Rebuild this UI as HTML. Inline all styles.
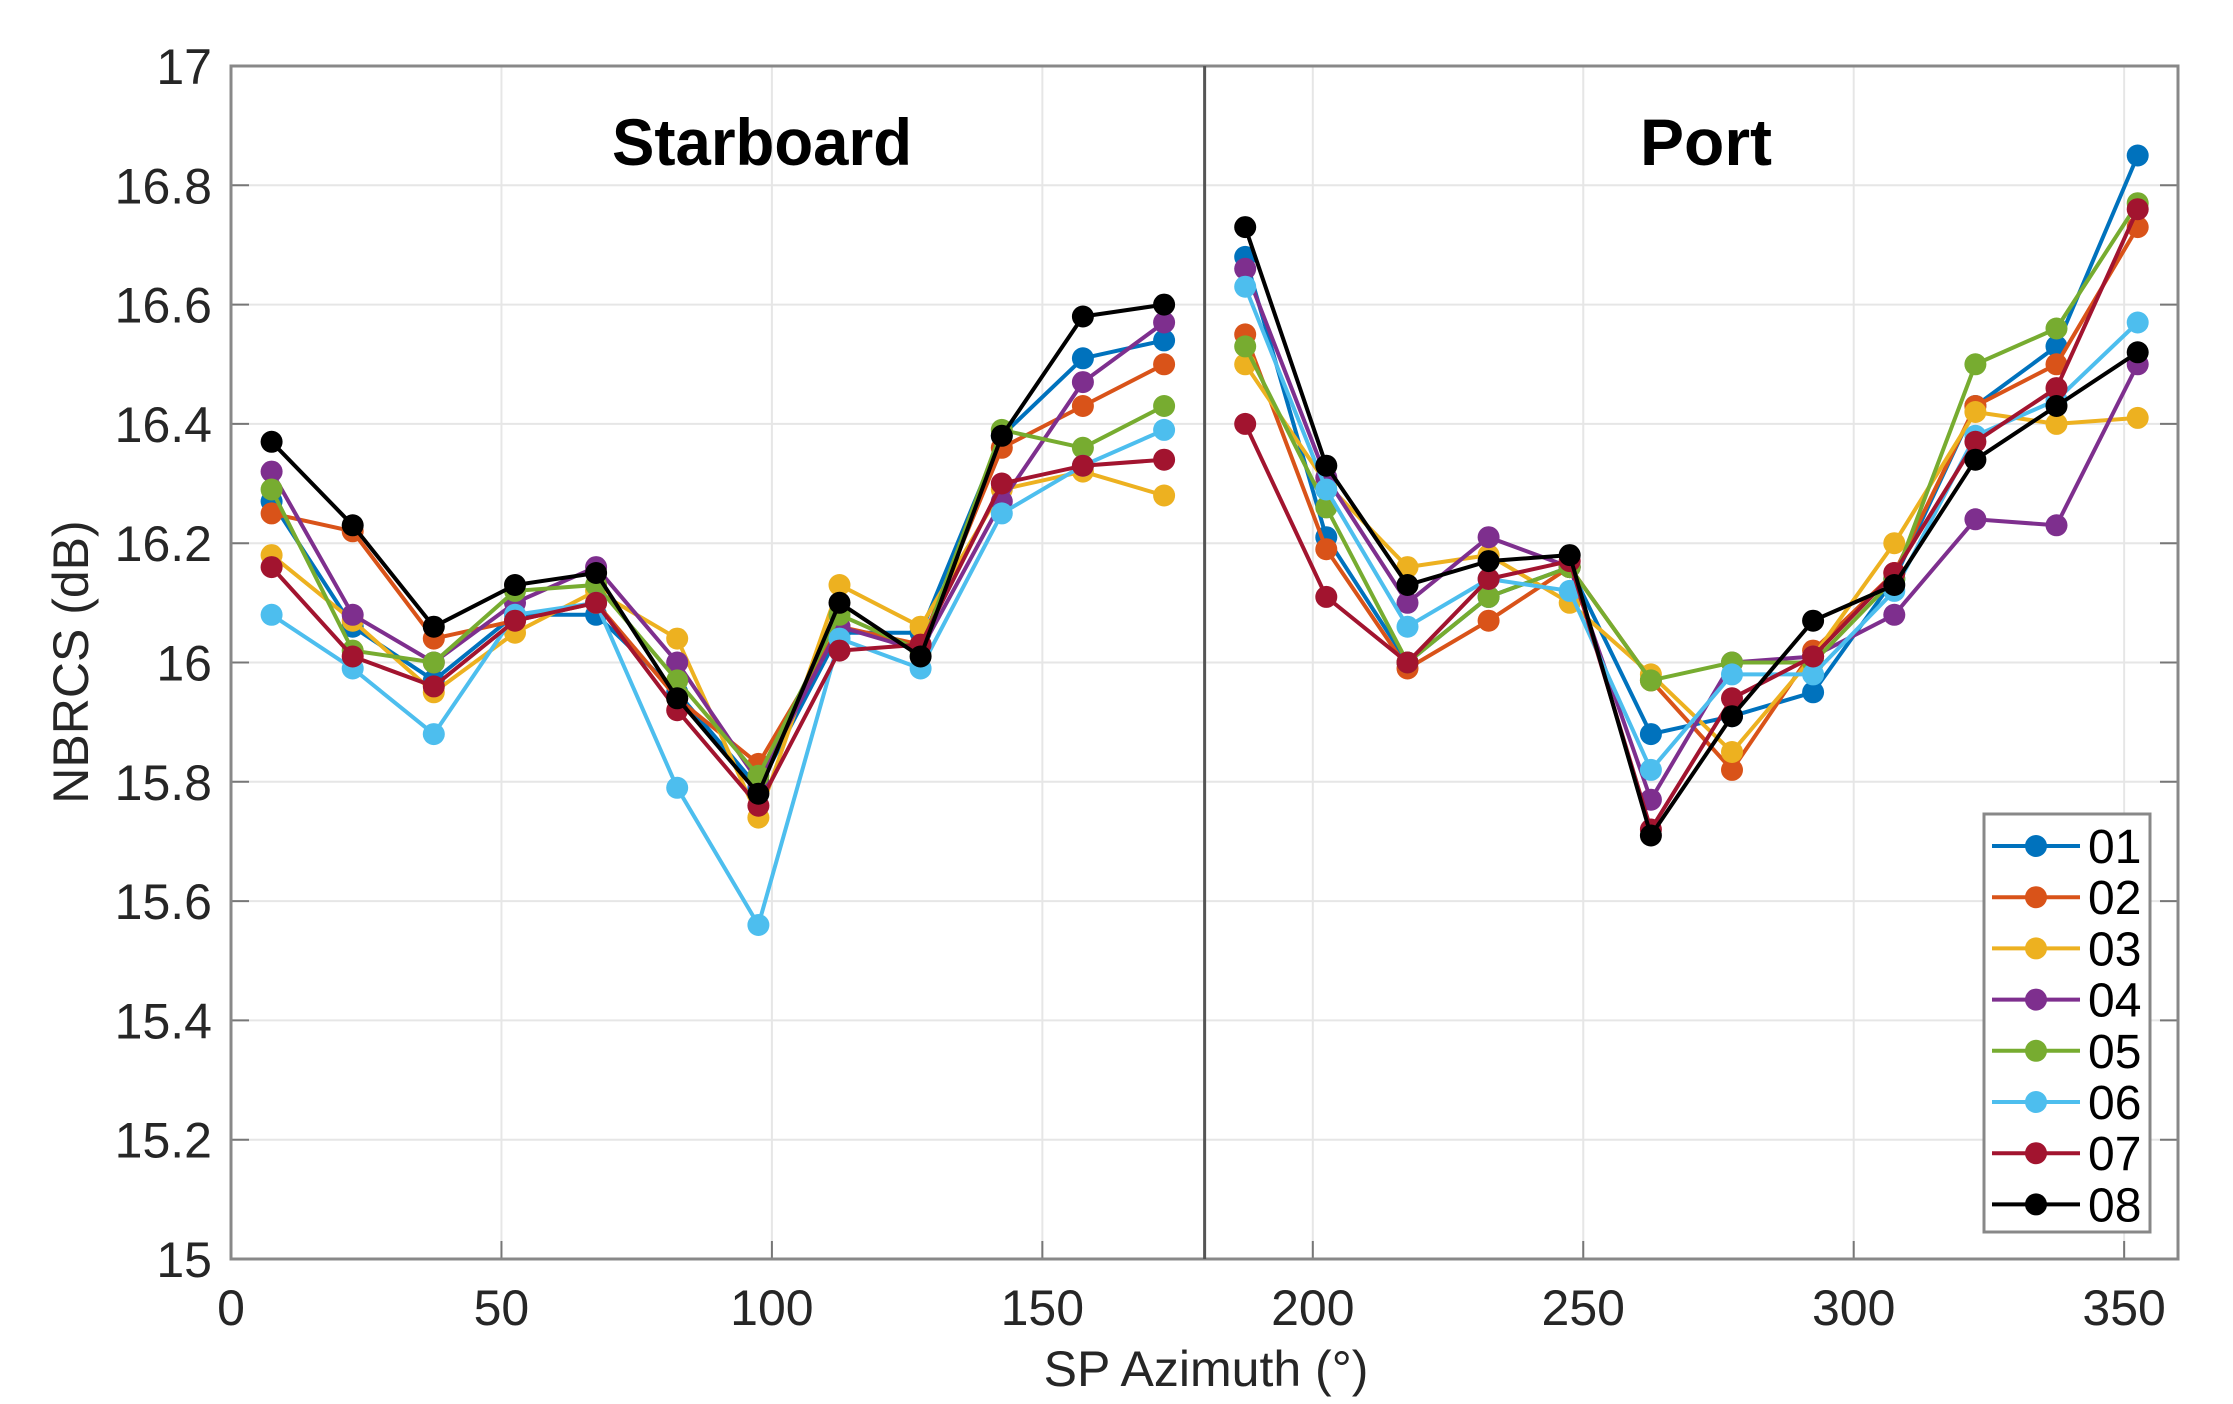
<!DOCTYPE html>
<html><head><meta charset="utf-8"><style>body{margin:0;background:#fff}svg{display:block}</style></head>
<body>
<svg id="s" xmlns="http://www.w3.org/2000/svg" width="2233" height="1404" viewBox="0 0 2233 1404" font-family="Liberation Sans, DejaVu Sans, sans-serif">
<rect width="2233" height="1404" fill="#fff"/>
<g id="g"></g>
<text x="762" y="165" font-size="66" font-weight="bold" text-anchor="middle" textLength="300" lengthAdjust="spacingAndGlyphs" fill="#000">Starboard</text>
<text x="1706" y="165" font-size="66" font-weight="bold" text-anchor="middle" fill="#000">Port</text>
<text transform="translate(88,662) rotate(-90)" font-size="50" text-anchor="middle" fill="#262626">NBRCS (dB)</text>
<text x="1206" y="1386" font-size="50" text-anchor="middle" fill="#262626">SP Azimuth (°)</text>
</svg>
<script>
var g=document.getElementById('g'),h='';
function X(v){return 231+v*5.409;}function Y(v){return 66+(17-v)*596.5;}
for(var i=0;i<=7;i++){var x=X(i*50);h+='<line x1="'+x+'" y1="66" x2="'+x+'" y2="1259" stroke="#e6e6e6" stroke-width="2"/>';
h+='<line x1="'+x+'" y1="1259" x2="'+x+'" y2="1241" stroke="#777" stroke-width="2"/>';
h+='<text x="'+x+'" y="1325" font-size="50" text-anchor="middle" fill="#262626">'+(i*50)+'</text>';}
for(var i=0;i<=10;i++){var v=15+i*0.2,y=Y(v);h+='<line x1="231" y1="'+y+'" x2="2178" y2="'+y+'" stroke="#e6e6e6" stroke-width="2"/>';
h+='<line x1="231" y1="'+y+'" x2="249" y2="'+y+'" stroke="#777" stroke-width="2"/><line x1="2160" y1="'+y+'" x2="2178" y2="'+y+'" stroke="#777" stroke-width="2"/>';
var l=(Math.abs(v-Math.round(v))<1e-6)?String(Math.round(v)):v.toFixed(1);
h+='<text x="212" y="'+(y+18)+'" font-size="50" text-anchor="end" fill="#262626">'+l+'</text>';}
h+='<rect x="231" y="66" width="1947" height="1193" fill="none" stroke="#888" stroke-width="3"/>';
h+='<line x1="'+X(180)+'" y1="66" x2="'+X(180)+'" y2="1259" stroke="#555" stroke-width="3"/>';
var C=['#0072BD','#D95319','#EDB120','#7E2F8E','#77AC30','#4DBEEE','#A2142F','#000000'];
var S=[[16.27,16.06,15.97,16.08,16.08,15.95,15.79,16.05,16.05,16.38,16.51,16.54],
[16.25,16.22,16.04,16.07,16.10,15.94,15.83,16.06,16.03,16.36,16.43,16.50],
[16.18,16.07,15.95,16.05,16.12,16.04,15.74,16.13,16.06,16.29,16.32,16.28],
[16.32,16.08,16.00,16.10,16.16,16.00,15.80,16.06,16.02,16.27,16.47,16.57],
[16.29,16.02,16.00,16.12,16.13,15.97,15.81,16.08,16.02,16.39,16.36,16.43],
[16.08,15.99,15.88,16.08,16.10,15.79,15.56,16.04,15.99,16.25,16.33,16.39],
[16.16,16.01,15.96,16.07,16.10,15.92,15.76,16.02,16.03,16.30,16.33,16.34],
[16.37,16.23,16.06,16.13,16.15,15.94,15.78,16.10,16.01,16.38,16.58,16.60]];
var P=[[16.68,16.21,16.00,16.11,16.16,15.88,15.91,15.95,16.14,16.43,16.53,16.85],
[16.55,16.19,15.99,16.07,16.16,15.97,15.82,16.02,16.15,16.43,16.50,16.73],
[16.50,16.30,16.16,16.18,16.10,15.98,15.85,16.01,16.20,16.42,16.40,16.41],
[16.66,16.31,16.10,16.21,16.16,15.77,16.00,16.01,16.08,16.24,16.23,16.50],
[16.53,16.26,16.00,16.11,16.16,15.97,16.00,16.00,16.14,16.50,16.56,16.77],
[16.63,16.29,16.06,16.14,16.12,15.82,15.98,15.98,16.12,16.38,16.44,16.57],
[16.40,16.11,16.00,16.14,16.17,15.72,15.94,16.01,16.15,16.37,16.46,16.76],
[16.73,16.33,16.13,16.17,16.18,15.71,15.91,16.07,16.13,16.34,16.43,16.52]];
function ser(d,off,c){var p='',m='';for(var j=0;j<12;j++){var x=X(off+7.5+15*j),y=Y(d[j]);p+=(j?'L':'M')+x.toFixed(1)+' '+y.toFixed(1);m+='<circle cx="'+x.toFixed(1)+'" cy="'+y.toFixed(1)+'" r="11" fill="'+c+'"/>';}
return '<path d="'+p+'" fill="none" stroke="'+c+'" stroke-width="4"/>'+m;}
for(var k=0;k<8;k++){h+=ser(S[k],0,C[k]);h+=ser(P[k],180,C[k]);}
h+='<rect x="1984" y="814" width="166" height="418" fill="#fff" stroke="#888" stroke-width="3"/>';
for(var k=0;k<8;k++){var y=846+k*51.2;h+='<line x1="1992" y1="'+y+'" x2="2080" y2="'+y+'" stroke="'+C[k]+'" stroke-width="4"/><circle cx="2036" cy="'+y+'" r="11" fill="'+C[k]+'"/>';
h+='<text x="2088" y="'+(y+17)+'" font-size="48" fill="#000">0'+(k+1)+'</text>';}
g.innerHTML=h;
</script>
</body></html>
